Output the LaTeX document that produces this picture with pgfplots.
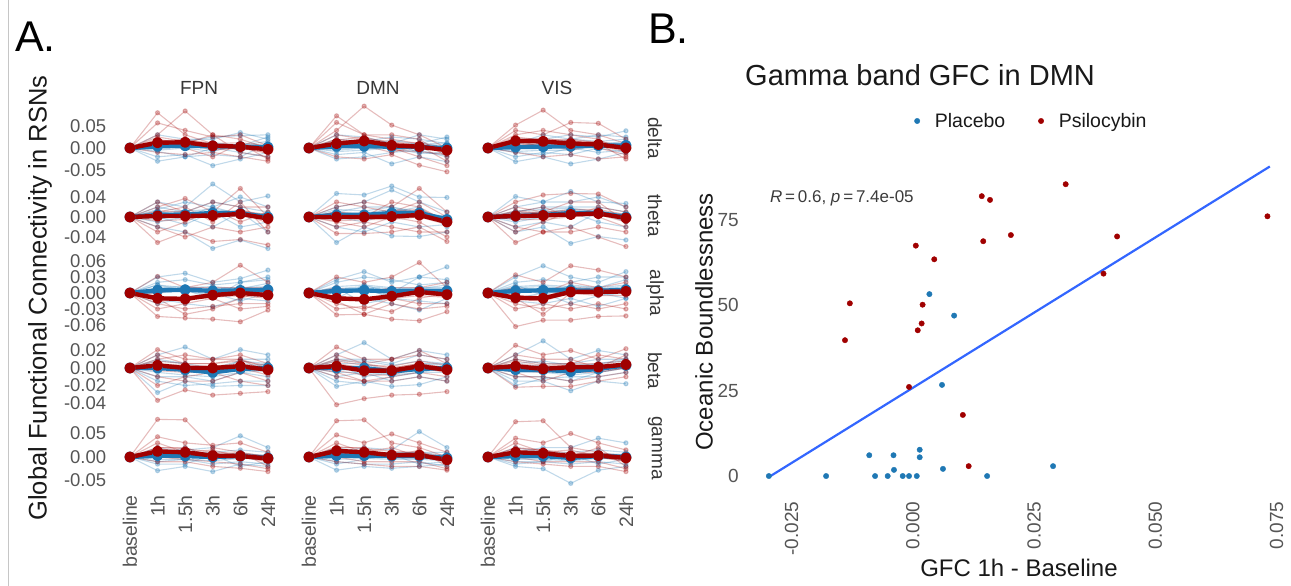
\documentclass[border=0pt]{standalone}
\usepackage{fontspec}
\setmainfont{Liberation Sans}
\usepackage{pgfplots}
\usepackage{pgfplotstable}
\pgfplotsset{compat=1.18}
\definecolor{pblue}{RGB}{31,120,180}
\definecolor{pred}{RGB}{160,0,0}
\definecolor{fitblue}{RGB}{51,102,255}
\definecolor{tickgray}{RGB}{85,85,85}
\definecolor{stripgray}{RGB}{55,55,55}
\definecolor{titleblack}{RGB}{25,25,25}
\newcommand{\fs}[1]{\fontsize{#1}{#1}\selectfont}

% ---------------- Panel A data (t: 0 baseline,1 1h,2 1.5h,3 3h,4 6h,5 24h)
\pgfplotstableread{
t b1 b2 b3 b4 b5 b6 r1 r2 r3 r4 r5 r6 bm rm e b7 b8 b9 r7 r8 r9
0 0 0 0 0 0 0 0 0 0 0 0 0 0 0 0 0 0 0 0 0 0
1 0.010 -0.020 0.030 -0.008 0.015 -0.030 0.080 0.030 0.057 -0.010 0.020 0.010 0.004 0.012 0.009 0.005 -0.005 0.012 0.015 0.005 0.025
2 0.015 -0.015 0.020 -0.020 0.010 -0.020 0.030 0.084 0.040 -0.015 0.010 0.000 0.005 0.013 0.009 0.008 0.000 0.018 0.020 0.012 0.015
3 0.025 -0.040 0.020 0.000 0.010 -0.015 0.010 0.030 0.025 -0.010 0.030 -0.020 0.004 0.005 0.009 0.012 -0.008 0.005 0.010 -0.005 0.008
4 0.028 -0.025 0.035 -0.010 0.005 -0.020 0.000 0.020 0.030 -0.020 -0.010 0.010 0.003 0.003 0.009 0.006 0.010 0.000 0.012 0.000 -0.005
5 0.030 -0.010 0.020 -0.020 0.025 0.010 -0.010 0.000 0.005 -0.030 -0.020 -0.025 0.002 -0.003 0.009 0.015 -0.005 0.008 0.005 -0.012 0.002
}\dFPN
\pgfplotstableread{
t b1 b2 b3 b4 b5 b6 r1 r2 r3 r4 r5 r6 bm rm e b7 b8 b9 r7 r8 r9
0 0 0 0 0 0 0 0 0 0 0 0 0 0 0 0 0 0 0 0 0 0
1 0.020 -0.015 0.030 -0.005 0.010 -0.025 0.073 0.040 0.058 -0.020 0.020 0.000 0.004 0.010 0.009 0.008 -0.008 0.015 0.018 0.005 0.030
2 0.015 -0.010 0.025 0.000 0.020 -0.020 0.030 0.095 0.030 -0.025 0.010 0.005 0.004 0.016 0.009 0.012 -0.005 0.005 0.025 0.015 0.020
3 0.025 -0.036 0.010 0.010 0.005 -0.010 0.020 0.052 0.030 -0.015 0.000 -0.010 0.003 0.006 0.009 0.005 0.000 0.018 0.010 -0.005 0.015
4 0.020 -0.020 0.030 -0.010 0.010 -0.005 0.010 0.030 0.020 -0.039 -0.020 0.005 0.002 0.003 0.009 0.010 -0.012 0.008 0.012 -0.008 0.005
5 0.010 -0.031 0.020 -0.015 0.025 -0.020 -0.010 0.000 -0.020 -0.054 -0.040 -0.030 0.000 -0.005 0.009 0.005 -0.010 0.012 0.000 -0.015 -0.008
}\dDMN
\pgfplotstableread{
t b1 b2 b3 b4 b5 b6 r1 r2 r3 r4 r5 r6 bm rm e b7 b8 b9 r7 r8 r9
0 0 0 0 0 0 0 0 0 0 0 0 0 0 0 0 0 0 0 0 0 0
1 0.020 -0.031 0.010 -0.010 0.015 -0.020 0.052 0.040 0.030 -0.010 0.020 0.005 0.002 0.016 0.009 0.005 -0.008 0.010 0.020 0.010 0.025
2 0.020 -0.020 0.030 -0.015 0.010 -0.010 0.086 0.030 0.040 -0.020 0.000 0.010 0.003 0.015 0.009 0.008 -0.005 0.015 0.022 0.005 0.018
3 0.030 -0.036 0.020 0.000 0.020 -0.015 0.040 0.058 0.030 -0.015 0.020 -0.005 0.004 0.010 0.009 0.010 -0.005 0.015 0.015 0.000 0.020
4 0.025 -0.025 0.030 -0.010 0.015 0.000 0.030 0.056 0.020 -0.025 0.000 0.010 0.005 0.008 0.009 0.012 0.005 0.008 0.015 0.005 0.012
5 0.039 -0.010 0.025 -0.005 0.020 -0.010 0.010 0.020 -0.010 -0.020 -0.015 -0.025 0.006 0.000 0.009 0.010 0.000 0.015 0.005 -0.008 0.000
}\dVIS
\pgfplotstableread{
t b1 b2 b3 b4 b5 b6 r1 r2 r3 r4 r5 r6 bm rm e b7 b8 b9 r7 r8 r9
0 0 0 0 0 0 0 0 0 0 0 0 0 0 0 0 0 0 0 0 0 0
1 0.030 -0.020 0.015 -0.010 0.020 0.000 0.020 -0.051 0.030 -0.020 0.010 -0.030 0.004 0.002 0.008 0.008 -0.005 0.012 0.005 -0.008 0.012
2 0.020 -0.030 0.030 0.000 0.010 -0.015 0.037 -0.030 0.010 -0.040 0.020 -0.010 0.005 0.002 0.008 0.012 0.005 0.000 0.008 -0.005 0.010
3 0.066 -0.063 0.020 -0.020 0.030 0.010 0.010 -0.049 0.030 -0.020 -0.010 0.015 0.008 0.003 0.008 0.015 0.000 0.020 0.010 0.005 -0.005
4 0.030 -0.046 0.040 0.010 0.020 -0.020 0.057 -0.045 0.020 -0.030 0.030 -0.010 0.007 0.006 0.008 0.010 0.015 0.005 0.012 0.008 0.015
5 0.042 -0.063 0.020 -0.030 0.010 -0.010 0.000 -0.056 0.020 -0.020 -0.030 0.010 0.000 -0.003 0.008 0.005 -0.008 0.003 0.005 -0.012 0.000
}\tFPN
\pgfplotstableread{
t b1 b2 b3 b4 b5 b6 r1 r2 r3 r4 r5 r6 bm rm e b7 b8 b9 r7 r8 r9
0 0 0 0 0 0 0 0 0 0 0 0 0 0 0 0 0 0 0 0 0 0
1 0.047 -0.051 0.020 0.000 0.010 -0.020 0.020 -0.033 0.010 -0.020 0.030 -0.010 0.004 0.000 0.008 0.010 -0.005 0.015 0.005 -0.008 0.010
2 0.044 -0.020 0.030 -0.010 0.020 -0.030 0.030 -0.033 0.000 -0.010 0.020 -0.020 0.004 0.000 0.008 0.008 0.000 0.012 0.008 -0.005 0.005
3 0.062 -0.038 0.054 0.010 0.020 -0.010 0.020 -0.030 0.030 -0.020 0.010 0.000 0.008 0.001 0.008 0.015 0.005 0.020 0.005 -0.005 0.012
4 0.040 -0.039 0.030 0.020 0.010 -0.020 0.057 -0.020 0.020 -0.030 0.030 -0.010 0.008 0.004 0.008 0.012 0.010 0.005 0.010 0.000 0.015
5 0.039 -0.030 0.010 -0.020 0.000 -0.015 0.010 -0.049 -0.010 -0.030 0.000 -0.040 -0.005 -0.010 0.008 -0.005 -0.012 0.002 -0.008 -0.015 -0.005
}\tDMN
\pgfplotstableread{
t b1 b2 b3 b4 b5 b6 r1 r2 r3 r4 r5 r6 bm rm e b7 b8 b9 r7 r8 r9
0 0 0 0 0 0 0 0 0 0 0 0 0 0 0 0 0 0 0 0 0 0
1 0.041 -0.030 0.020 -0.010 0.010 -0.020 0.030 -0.051 0.020 -0.020 0.010 -0.030 0.002 0.002 0.008 0.008 -0.005 0.012 0.008 -0.005 0.012
2 0.030 -0.020 0.030 0.000 0.020 -0.010 0.044 -0.030 0.010 -0.030 0.020 -0.010 0.004 0.003 0.008 0.010 0.000 0.015 0.010 -0.005 0.008
3 0.051 -0.053 0.030 0.010 0.020 -0.020 0.047 -0.020 0.030 -0.030 0.000 0.010 0.008 0.005 0.008 0.015 0.005 0.018 0.012 0.000 0.015
4 0.030 -0.039 0.040 -0.010 0.020 0.010 0.046 -0.040 0.030 -0.020 0.020 0.000 0.008 0.007 0.008 0.012 0.008 0.010 0.010 0.005 0.015
5 0.027 -0.046 0.020 -0.020 0.010 -0.010 0.020 -0.059 -0.010 -0.030 0.010 -0.020 0.000 -0.002 0.008 0.005 -0.008 0.002 0.000 -0.010 0.005
}\tVIS
\pgfplotstableread{
t b1 b2 b3 b4 b5 b6 r1 r2 r3 r4 r5 r6 bm rm e b7 b8 b9 r7 r8 r9
0 0 0 0 0 0 0 0 0 0 0 0 0 0 0 0 0 0 0 0 0 0
1 0.030 -0.010 0.020 0.000 0.015 -0.020 0.031 -0.044 -0.020 0.000 -0.030 -0.010 0.005 -0.010 0.0075 0.010 0.000 0.015 -0.008 -0.015 -0.005
2 0.037 -0.020 0.025 0.010 0.005 -0.010 0.010 -0.047 -0.030 0.010 -0.020 -0.040 0.006 -0.011 0.0075 0.012 0.005 0.010 -0.010 -0.012 -0.018
3 0.020 -0.026 0.015 0.005 -0.010 0.000 0.020 -0.049 -0.025 0.010 -0.010 -0.030 0.004 -0.004 0.0075 0.008 -0.005 0.012 0.000 -0.008 0.005
4 0.027 -0.010 0.020 0.000 0.020 -0.015 0.052 -0.054 -0.020 0.010 -0.030 -0.010 0.005 0.000 0.0075 0.010 0.005 0.008 0.005 -0.005 0.000
5 0.043 -0.015 0.030 -0.005 0.025 0.000 0.020 -0.032 -0.020 0.010 -0.025 0.005 0.006 -0.004 0.0075 0.012 0.000 0.018 -0.005 -0.010 0.000
}\aFPN
\pgfplotstableread{
t b1 b2 b3 b4 b5 b6 r1 r2 r3 r4 r5 r6 bm rm e b7 b8 b9 r7 r8 r9
0 0 0 0 0 0 0 0 0 0 0 0 0 0 0 0 0 0 0 0 0 0
1 0.025 -0.015 0.020 0.005 -0.010 0.010 0.030 -0.041 -0.020 0.010 -0.030 -0.015 0.004 -0.010 0.0075 0.008 0.000 0.012 -0.008 -0.015 -0.005
2 0.040 -0.010 0.030 0.010 0.015 -0.020 0.020 -0.040 -0.030 0.000 -0.025 -0.040 0.005 -0.012 0.0075 0.012 0.005 0.015 -0.012 -0.010 -0.015
3 0.020 -0.020 0.025 -0.010 0.000 -0.010 0.030 -0.049 -0.010 0.010 -0.035 -0.020 0.003 -0.006 0.0075 0.008 -0.005 0.010 -0.005 -0.010 0.000
4 0.030 -0.032 0.015 0.000 0.030 -0.015 0.057 -0.052 -0.020 0.010 -0.010 -0.030 0.004 0.002 0.0075 0.010 0.000 0.008 0.005 -0.005 0.008
5 0.049 -0.010 0.020 0.000 0.025 -0.020 0.010 -0.035 -0.020 0.020 0.000 -0.025 0.004 -0.003 0.0075 0.010 -0.005 0.015 0.000 -0.008 -0.005
}\aDMN
\pgfplotstableread{
t b1 b2 b3 b4 b5 b6 r1 r2 r3 r4 r5 r6 bm rm e b7 b8 b9 r7 r8 r9
0 0 0 0 0 0 0 0 0 0 0 0 0 0 0 0 0 0 0 0 0 0
1 0.030 -0.015 0.020 0.000 0.015 -0.010 0.034 -0.063 -0.020 0.010 -0.030 -0.010 0.004 -0.009 0.0075 0.010 0.000 0.012 -0.008 -0.012 -0.005
2 0.051 -0.020 0.025 0.010 -0.005 0.000 0.020 -0.051 -0.030 0.000 -0.020 -0.040 0.005 -0.010 0.0075 0.012 0.005 0.015 -0.010 -0.015 -0.008
3 0.030 -0.010 0.020 0.010 0.015 -0.020 0.051 -0.051 -0.020 0.020 -0.030 0.000 0.005 0.002 0.0075 0.010 0.000 0.012 0.005 0.000 0.010
4 0.020 -0.025 0.030 0.000 0.010 -0.005 0.043 -0.044 -0.030 0.010 -0.020 0.000 0.004 0.002 0.0075 0.008 0.005 0.010 0.005 -0.005 0.008
5 0.040 -0.010 0.030 -0.010 0.025 0.000 0.030 -0.043 -0.020 0.020 -0.030 0.010 0.006 0.003 0.0075 0.012 0.000 0.015 0.005 -0.005 0.008
}\aVIS
\pgfplotstableread{
t b1 b2 b3 b4 b5 b6 r1 r2 r3 r4 r5 r6 bm rm e b7 b8 b9 r7 r8 r9
0 0 0 0 0 0 0 0 0 0 0 0 0 0 0 0 0 0 0 0 0 0
1 0.015 -0.028 0.010 -0.010 0.005 -0.015 0.021 -0.037 0.010 -0.010 0.015 -0.020 0.000 0.003 0.0046 0.005 -0.005 0.008 0.005 -0.003 0.008
2 0.024 -0.015 0.005 -0.010 -0.005 -0.020 0.010 -0.025 0.015 -0.015 0.005 -0.010 -0.002 0.000 0.0046 0.000 -0.008 0.005 0.003 -0.005 0.005
3 0.010 -0.021 -0.010 -0.015 0.000 -0.018 0.010 -0.031 0.010 -0.015 0.005 -0.005 -0.005 0.000 0.0046 -0.005 -0.010 0.000 0.002 -0.005 0.005
4 0.021 -0.020 0.010 -0.005 0.000 -0.015 0.015 -0.029 0.010 -0.005 0.010 -0.015 -0.001 0.002 0.0046 0.005 -0.005 0.008 0.005 0.000 0.008
5 0.015 -0.020 0.010 -0.010 0.005 -0.015 0.005 -0.027 0.000 -0.015 -0.005 -0.020 0.000 -0.002 0.0046 0.003 -0.003 0.005 0.000 -0.008 0.003
}\bFPN
\pgfplotstableread{
t b1 b2 b3 b4 b5 b6 r1 r2 r3 r4 r5 r6 bm rm e b7 b8 b9 r7 r8 r9
0 0 0 0 0 0 0 0 0 0 0 0 0 0 0 0 0 0 0 0 0 0
1 0.015 -0.021 0.010 -0.010 0.005 -0.015 0.024 -0.042 0.010 -0.010 0.015 -0.005 0.000 0.002 0.0046 0.005 -0.005 0.008 0.005 -0.003 0.008
2 0.029 -0.015 0.010 -0.005 -0.010 -0.018 0.010 -0.035 0.005 -0.015 0.005 -0.015 0.000 -0.003 0.0046 0.005 -0.005 0.008 0.000 -0.008 0.003
3 0.010 -0.021 0.005 -0.015 -0.005 -0.010 0.010 -0.031 0.010 -0.015 0.000 -0.010 -0.004 -0.003 0.0046 -0.003 -0.008 0.003 0.000 -0.008 0.002
4 0.020 -0.019 0.015 -0.010 0.005 -0.005 0.015 -0.030 0.020 -0.010 0.005 -0.005 -0.001 0.002 0.0046 0.005 -0.005 0.008 0.005 0.000 0.008
5 0.015 -0.010 0.010 -0.015 0.005 0.000 0.010 -0.027 0.005 -0.015 0.000 -0.010 0.000 -0.002 0.0046 0.003 -0.005 0.005 0.000 -0.005 0.003
}\bDMN
\pgfplotstableread{
t b1 b2 b3 b4 b5 b6 r1 r2 r3 r4 r5 r6 bm rm e b7 b8 b9 r7 r8 r9
0 0 0 0 0 0 0 0 0 0 0 0 0 0 0 0 0 0 0 0 0 0
1 0.015 -0.015 0.010 -0.010 0.005 -0.020 0.026 -0.022 0.010 -0.010 0.015 -0.005 -0.002 0.002 0.0046 0.003 -0.005 0.005 0.005 -0.003 0.008
2 0.031 -0.015 0.005 -0.010 -0.005 -0.012 0.015 -0.021 0.005 -0.010 0.010 -0.015 -0.002 -0.001 0.0046 0.003 -0.005 0.008 0.002 -0.005 0.003
3 0.010 -0.026 0.005 -0.015 0.000 -0.010 0.020 -0.021 0.005 -0.015 0.010 -0.005 -0.004 0.001 0.0046 -0.003 -0.008 0.003 0.003 -0.003 0.005
4 0.020 -0.015 0.010 -0.005 0.005 -0.010 0.010 -0.015 0.015 -0.010 0.000 -0.005 -0.001 0.001 0.0046 0.003 -0.005 0.005 0.003 -0.003 0.005
5 0.015 -0.018 0.010 0.000 0.010 -0.005 0.022 -0.010 0.010 -0.005 0.015 0.000 0.003 0.004 0.0046 0.005 0.000 0.008 0.005 0.000 0.008
}\bVIS
\pgfplotstableread{
t b1 b2 b3 b4 b5 b6 r1 r2 r3 r4 r5 r6 bm rm e b7 b8 b9 r7 r8 r9
0 0 0 0 0 0 0 0 0 0 0 0 0 0 0 0 0 0 0 0 0 0
1 0.010 -0.029 0.020 -0.010 0.005 -0.015 0.080 0.043 0.020 -0.010 0.030 0.000 0.003 0.012 0.0085 0.005 -0.005 0.010 0.015 0.008 0.020
2 0.015 -0.020 0.010 -0.005 0.020 -0.015 0.079 0.030 0.020 -0.010 0.010 -0.005 0.002 0.010 0.0085 0.005 -0.005 0.008 0.012 0.005 0.018
3 0.020 -0.031 0.010 -0.015 0.000 0.005 0.020 0.025 0.000 -0.020 0.015 -0.010 0.000 0.003 0.0085 0.003 -0.008 0.005 0.005 -0.003 0.010
4 0.045 -0.015 0.015 -0.010 0.000 -0.020 0.010 0.030 0.010 -0.024 0.000 -0.015 0.002 0.002 0.0085 0.005 -0.003 0.008 0.005 0.000 0.008
5 0.020 -0.020 0.010 -0.015 0.005 -0.010 0.000 0.010 -0.020 -0.031 -0.010 -0.025 -0.002 -0.003 0.0085 0.000 -0.005 0.003 0.000 -0.008 0.002
}\gFPN
\pgfplotstableread{
t b1 b2 b3 b4 b5 b6 r1 r2 r3 r4 r5 r6 bm rm e b7 b8 b9 r7 r8 r9
0 0 0 0 0 0 0 0 0 0 0 0 0 0 0 0 0 0 0 0 0 0
1 0.010 -0.028 0.020 -0.010 0.005 -0.015 0.077 0.047 0.020 -0.010 0.030 0.000 0.003 0.013 0.0085 0.005 -0.005 0.010 0.015 0.008 0.022
2 0.020 -0.020 0.010 -0.015 0.015 -0.005 0.079 0.030 0.020 -0.015 0.010 -0.010 0.003 0.010 0.0085 0.008 -0.003 0.008 0.012 0.005 0.018
3 0.015 -0.024 0.010 -0.015 0.000 0.005 0.030 0.049 0.000 -0.020 0.020 -0.010 0.002 0.004 0.0085 0.003 -0.005 0.008 0.008 0.000 0.012
4 0.054 -0.020 0.010 -0.010 0.000 -0.015 0.020 0.030 0.015 -0.020 0.000 -0.010 0.002 0.004 0.0085 0.005 -0.005 0.010 0.008 0.000 0.010
5 0.020 -0.015 0.010 -0.020 0.005 -0.010 0.000 0.010 -0.020 -0.028 -0.010 -0.025 -0.002 -0.006 0.0085 0.000 -0.008 0.003 -0.002 -0.010 0.000
}\gDMN
\pgfplotstableread{
t b1 b2 b3 b4 b5 b6 r1 r2 r3 r4 r5 r6 bm rm e b7 b8 b9 r7 r8 r9
0 0 0 0 0 0 0 0 0 0 0 0 0 0 0 0 0 0 0 0 0 0
1 0.010 -0.020 0.020 -0.010 0.005 -0.015 0.075 0.040 0.020 -0.010 0.030 0.000 0.002 0.010 0.0085 0.005 -0.005 0.008 0.012 0.005 0.018
2 0.020 -0.025 0.010 -0.010 0.015 -0.010 0.077 0.030 0.015 -0.015 0.010 -0.010 0.002 0.008 0.0085 0.005 -0.005 0.008 0.010 0.003 0.015
3 0.020 -0.056 0.010 -0.015 0.000 0.005 0.020 0.050 0.000 -0.020 0.015 -0.010 -0.002 0.002 0.0085 0.000 -0.008 0.005 0.005 -0.003 0.008
4 0.040 -0.028 0.015 -0.010 0.005 -0.015 0.010 0.030 0.020 -0.020 0.000 -0.010 0.002 0.003 0.0085 0.005 -0.003 0.008 0.005 0.000 0.008
5 0.030 -0.020 0.010 -0.015 0.005 -0.005 0.000 0.015 -0.020 -0.031 -0.010 -0.025 0.000 -0.002 0.0085 0.003 -0.005 0.005 0.000 -0.008 0.003
}\gVIS

% ---------------- Panel B data
\pgfplotstableread{
x y
0.0034 53.3
0.0085 47.0
0.0060 26.7
-0.0090 6.1
-0.0040 6.1
0.0014 7.7
0.0014 5.5
-0.0039 1.8
0.0062 2.1
0.0289 2.9
-0.0297 0
-0.0179 0
-0.0078 0
-0.0052 0
-0.0021 0
-0.0008 0
0.0008 0
0.0153 0
}\placebo
\pgfplotstableread{
x y
0.0006 67.5
0.0044 63.5
-0.0130 50.6
0.0020 50.2
0.0018 44.7
0.0010 42.7
-0.0140 39.8
-0.0008 26.1
0.0103 17.9
0.0115 2.9
0.0142 82.0
0.0159 80.9
0.0145 68.8
0.0315 85.5
0.0202 70.6
0.0421 70.2
0.0393 59.3
0.0731 76.1
}\psilo

\pgfplotsset{
  indb/.style={color=pblue, opacity=0.28, line width=1.1pt, mark=*, mark size=2.1pt, mark options={draw=none, fill=pblue}},
  indr/.style={color=pred, opacity=0.26, line width=1.1pt, mark=*, mark size=2.1pt, mark options={draw=none, fill=pred}},
  meanb/.style={color=pblue, line width=4.4pt, line join=round, mark=*, mark size=3.3pt, mark options={draw=none, fill=pblue},
    /pgfplots/error bars/y dir=both, /pgfplots/error bars/y explicit, /pgfplots/error bars/error mark=none,
    /pgfplots/error bars/error bar style={line width=2.6pt, pblue}},
  meanr/.style={color=pred, line width=4.4pt, line join=round, mark=*, mark size=3.3pt, mark options={draw=none, fill=pred},
    /pgfplots/error bars/y dir=both, /pgfplots/error bars/y explicit, /pgfplots/error bars/error mark=none,
    /pgfplots/error bars/error bar style={line width=2.6pt, pred}},
  panel/.style={scale only axis, width=171.1pt, height=72pt, anchor=north west,
    xmin=-0.6, xmax=5.6, axis line style={draw=none}, major tick length=0pt,
    scaled ticks=false,
    xtick=\empty, ytick=\empty,
    yticklabel style={font=\fs{18.5}, text=tickgray, inner sep=0pt},
    yticklabel shift=7pt,
    xticklabel style={font=\fs{19.5}, text=tickgray, inner sep=0pt, rotate=90, anchor=east},
    xticklabel shift=11pt},
  ytdelta/.style={ytick={-0.05,0,0.05}, yticklabels={-0.05,0.00,0.05}},
  yttheta/.style={ytick={-0.04,0,0.04}, yticklabels={-0.04,0.00,0.04}},
  ytalpha/.style={ytick={-0.06,-0.03,0,0.03,0.06}, yticklabels={-0.06,-0.03,0.00,0.03,0.06}},
  ytbeta/.style={ytick={-0.04,-0.02,0,0.02}, yticklabels={-0.04,-0.02,0.00,0.02}},
  ytgamma/.style={ytick={-0.05,0,0.05}, yticklabels={-0.05,0.00,0.05}},
  xtb/.style={xtick={0,1,2,3,4,5}, xticklabels={baseline,1h,1.5h,3h,6h,24h}},
}

\newcommand{\panel}[6]{%
\begin{axis}[panel, at={(#2,#3)}, ymin=#4, ymax=#5, #6]
\pgfplotsinvokeforeach{1,...,9}{\addplot[indb] table[x=t,y=b##1]{#1};}
\pgfplotsinvokeforeach{1,...,9}{\addplot[indr] table[x=t,y=r##1]{#1};}
\addplot[meanb] table[x=t,y=bm,y error=e]{#1};
\addplot[meanr] table[x=t,y=rm,y error=e]{#1};
\end{axis}}

\begin{document}
\begin{tikzpicture}[x=1pt,y=1pt]
\path[use as bounding box] (0,0) rectangle (1291,586);
\draw[gray!45, line width=1pt] (8,0) -- (8,586);

% ---------- Panel A
\panel{\dFPN}{113.4pt}{484pt}{-0.059}{0.1045}{ytdelta}
\panel{\dDMN}{292.4pt}{484pt}{-0.059}{0.1045}{}
\panel{\dVIS}{471.4pt}{484pt}{-0.059}{0.1045}{}
\panel{\tFPN}{113.4pt}{406.5pt}{-0.069}{0.075}{yttheta}
\panel{\tDMN}{292.4pt}{406.5pt}{-0.069}{0.075}{}
\panel{\tVIS}{471.4pt}{406.5pt}{-0.069}{0.075}{}
\panel{\aFPN}{113.4pt}{329pt}{-0.0675}{0.0675}{ytalpha}
\panel{\aDMN}{292.4pt}{329pt}{-0.0675}{0.0675}{}
\panel{\aVIS}{471.4pt}{329pt}{-0.0675}{0.0675}{}
\panel{\bFPN}{113.4pt}{251.5pt}{-0.044}{0.0383}{ytbeta}
\panel{\bDMN}{292.4pt}{251.5pt}{-0.044}{0.0383}{}
\panel{\bVIS}{471.4pt}{251.5pt}{-0.044}{0.0383}{}
\panel{\gFPN}{113.4pt}{174pt}{-0.0574}{0.0957}{ytgamma, xtb}
\panel{\gDMN}{292.4pt}{174pt}{-0.0574}{0.0957}{xtb}
\panel{\gVIS}{471.4pt}{174pt}{-0.0574}{0.0957}{xtb}

\node[font=\fs{19}, text=stripgray, anchor=base] at (199,491) {FPN};
\node[font=\fs{19}, text=stripgray, anchor=base] at (378,491) {DMN};
\node[font=\fs{19}, text=stripgray, anchor=base] at (557,491) {VIS};
\foreach \lab/\yy in {delta/448, theta/370.5, alpha/293, beta/215.5, gamma/138}
  \node[font=\fs{19}, text=stripgray, rotate=-90] at (655,\yy) {\lab};
\node[font=\fs{25.5}, text=titleblack, rotate=90] at (40,288) {Global Functional Connectivity in RSNs};
\node[font=\fs{43}, anchor=base west, inner sep=0pt] at (15,534) {A.};
\node[font=\fs{43}, anchor=base west, inner sep=0pt] at (648,542) {B.};

% ---------- Panel B
\begin{axis}[scale only axis, width=543.2pt, height=339.6pt, at={(748pt,94.6pt)}, anchor=south west,
  xmin=-0.034, xmax=0.078, ymin=-4.5, ymax=95,
  axis line style={draw=none}, major tick length=0pt, scaled ticks=false,
  xtick={-0.025,0,0.025,0.05,0.075}, xticklabels={-0.025,0.000,0.025,0.050,0.075},
  ytick={0,25,50,75}, yticklabels={0,25,50,75},
  xticklabel style={font=\fs{19}, text=tickgray, inner sep=0pt, rotate=90, anchor=east},
  xticklabel shift=10pt,
  yticklabel style={font=\fs{19}, text=tickgray, inner sep=0pt},
  yticklabel shift=9pt,
  title={Gamma band GFC in DMN},
  title style={font=\fs{29}, text=titleblack, at={(axis description cs:-0.0055,1.179)}, anchor=base west, inner sep=0pt},
  xlabel={GFC 1h - Baseline},
  xlabel style={font=\fs{24}, text=titleblack, at={(axis description cs:0.4989,-0.2256)}, anchor=center, inner sep=0pt},
  ylabel={Oceanic Boundlessness},
  ylabel style={font=\fs{24}, text=titleblack, at={(axis description cs:-0.081,0.499)}, anchor=center, inner sep=0pt},
  legend columns=2,
  legend style={draw=none, fill=none, at={(axis description cs:0.3061,1.0907)}, anchor=west, inner sep=0pt,
    font=\fs{19.5}, text=titleblack, nodes={inner sep=0pt},
    /tikz/every odd column/.append style={column sep=15pt},
    /tikz/every even column/.append style={column sep=33pt}},
  legend image code/.code={\draw[#1] plot coordinates {(0pt,0pt)};},
]
\addplot[only marks, mark=*, mark size=2.7pt, color=pblue, mark options={draw=none, fill=pblue}] table[x=x,y=y]{\placebo};
\addplot[only marks, mark=*, mark size=2.7pt, color=pred, mark options={draw=none, fill=pred}] table[x=x,y=y]{\psilo};
\addplot[color=fitblue, line width=2.2pt, mark=none] coordinates {(-0.0297,-0.3) (0.0736,90.7)};
\legend{Placebo,Psilocybin}
\node[anchor=west, inner sep=0pt, font=\fs{17}, text=titleblack!85] at (axis cs:-0.0295,81.5) {\textit{R}\,=\,0.6, \textit{p}\,=\,7.4e-05};
\end{axis}
\end{tikzpicture}
\end{document}
